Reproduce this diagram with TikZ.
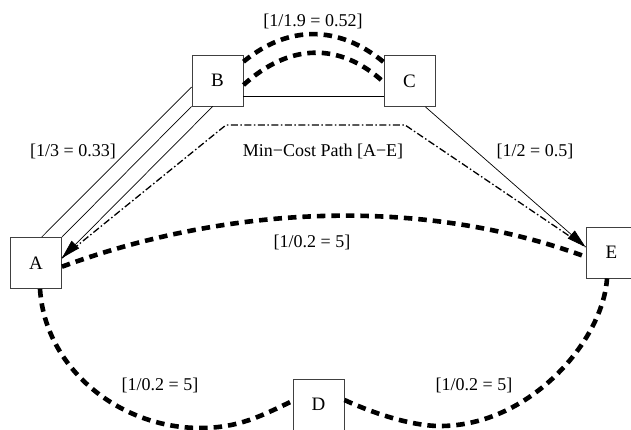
\documentclass[tikz,border=0pt]{standalone}
\usepackage{fontspec}
\setmainfont{Liberation Serif}
\usetikzlibrary{arrows.meta}

\begin{document}
\begin{tikzpicture}[x=1pt,y=-1pt,
  vertex/.style={draw=black!75, line width=0.9pt, fill=white,
    minimum width=51pt, minimum height=51pt, inner sep=0pt,
    font=\fontsize{19}{21}\selectfont},
  link/.style={line width=0.7pt},
  linkarrow/.style={link, -{Triangle[length=19pt,width=10.5pt]}},
  heavy/.style={line width=4.6pt, dash pattern=on 8.5pt off 6pt},
  mincost/.style={line width=1.3pt, dash pattern=on 7pt off 2.5pt on 1.5pt off 2.5pt},
  weight/.style={font=\fontsize{18}{20}\selectfont, inner sep=0pt}
]
\useasboundingbox (0,0) rectangle (631,430);

% graph vertices
\node[vertex] (A) at (36,263) {A};
\node[vertex] (B) at (217.5,80.5) {B};
\node[vertex] (C) at (409.5,81) {C};
\node[vertex] (D) at (318.5,404.5) {D};
\node[vertex] (E) at (611.5,252.5) {E};

% bends of the highlighted path and low points of the lower arcs
\coordinate (bendL) at (226,125);
\coordinate (bendR) at (405,125);
\coordinate (dipL) at (200,428);
\coordinate (dipR) at (440,426);

% thick dashed (weak) links
\draw[heavy] ([yshift=18.8pt]B.east) .. controls +(45,-37) and +(-45,-37) .. ([yshift=19pt]C.west);
\draw[heavy] ([yshift=-4.5pt]B.east) .. controls +(45,-41) and +(-45,-41) .. ([yshift=-1pt]C.west);
\draw[heavy] ([yshift=-3.7pt]A.east) .. controls +(165,-61) and +(-165,-61) .. ([yshift=-4.2pt]E.west);
\draw[heavy] ([xshift=4pt]A.south) .. controls +(5,80) and +(-80,0) .. (dipL)
  .. controls +(40,0) and +(-30,14) .. ([yshift=3.5pt]D.west);
\draw[heavy] ([yshift=4.5pt]D.east) .. controls +(26,12) and +(-30,0) .. (dipR)
  .. controls +(90,0) and +(-4,62) .. ([xshift=-4.5pt]E.south);

% solid links
\draw[link] ([yshift=-15.5pt]B.east) -- ([yshift=-15pt]C.west);
\draw[link] ([yshift=-6.5pt]B.west) -- ([xshift=5.7pt]A.north);
\draw[link] (B.south west) -- (A.north east);

% minimum-cost path from A to E
\draw[mincost] ([yshift=5pt]A.east) -- (bendL) -- (bendR) -- ([yshift=5.5pt]E.west);

% directed links
\draw[linkarrow] ([xshift=-4.8pt]B.south) -- ([yshift=5pt]A.east);
\draw[linkarrow] ([xshift=16pt]C.south) -- ([yshift=5.5pt]E.west);

% link weights
\node[weight] (wBC) at (313,21) {[1/1.9 = 0.52]};
\node[weight] (wAB) at (73,151) {[1/3 = 0.33]};
\node[weight] (wpath) at (323,151) {Min−Cost Path [A−E]};
\node[weight] (wCE) at (535,151) {[1/2 = 0.5]};
\node[weight] (wAE) at (312,242) {[1/0.2 = 5]};
\node[weight] (wAD) at (160,385) {[1/0.2 = 5]};
\node[weight] (wDE) at (474,385) {[1/0.2 = 5]};
\end{tikzpicture}
\end{document}
